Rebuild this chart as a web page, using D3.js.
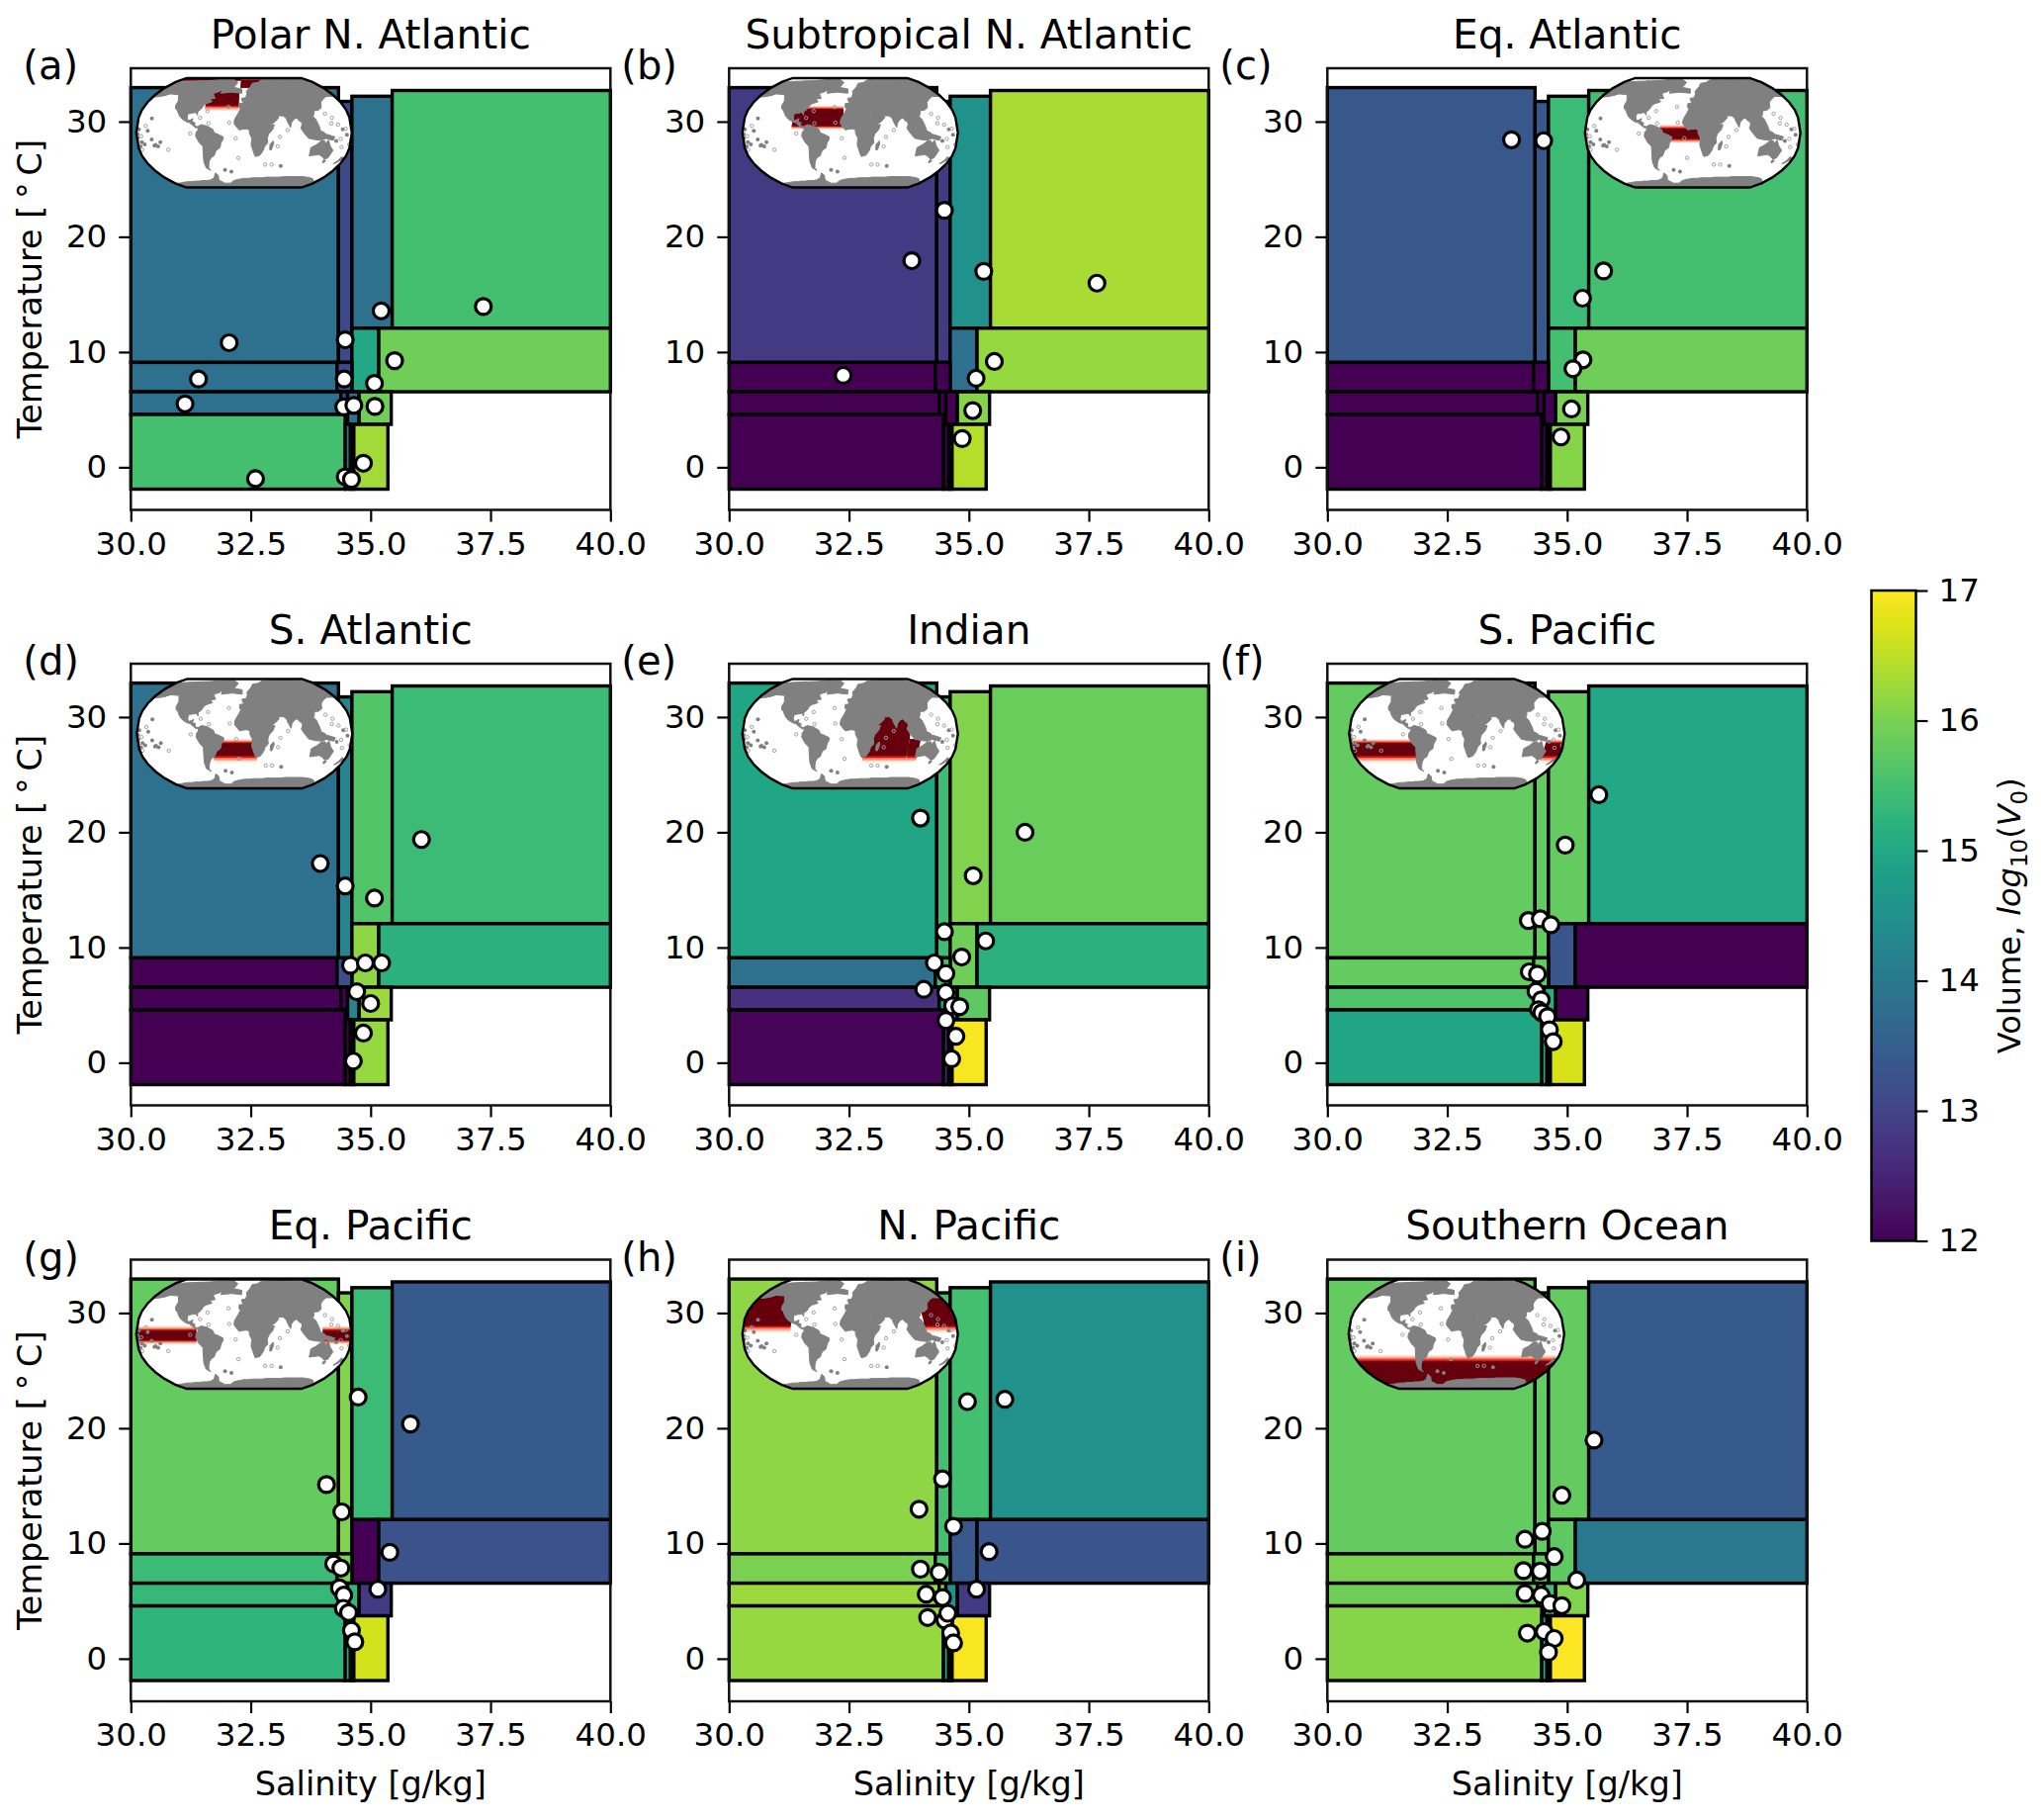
<!DOCTYPE html>
<html>
<head>
<meta charset="utf-8">
<title>Box volumes by region</title>
<script src="https://cdnjs.cloudflare.com/ajax/libs/d3/7.8.5/d3.min.js"></script>
<style>
  html, body { margin: 0; padding: 0; background: #fff; }
  svg text { font-family: "DejaVu Sans", sans-serif; fill: #000; }
</style>
</head>
<body>
<svg id="chart" width="2067" height="1840"></svg>
<script>
const panelNames = ["Polar N. Atlantic", "Subtropical N. Atlantic", "Eq. Atlantic", "S. Atlantic", "Indian", "S. Pacific", "Eq. Pacific", "N. Pacific", "Southern Ocean"];
const panelLetters = ["(a)", "(b)", "(c)", "(d)", "(e)", "(f)", "(g)", "(h)", "(i)"];
const xTicks = [30, 32.5, 35, 37.5, 40];
const yTicks = [0, 10, 20, 30];
const barTicks = [12, 13, 14, 15, 16, 17];

// the 16 boxes, same bounds in every panel
const salMin  = [30, 34.33, 34.61, 35.45, 34.61, 35.17, 30, 34.30, 30, 34.38, 34.52, 34.76, 30, 34.47, 34.58, 34.65];
const salMax  = [34.33, 34.61, 35.45, 40, 35.17, 40, 34.30, 34.61, 34.38, 34.52, 34.76, 35.43, 34.47, 34.58, 34.65, 35.36];
const tempMin = [9.1, 9.1, 12.07, 12.07, 6.55, 6.55, 6.55, 6.55, 4.58, 4.58, 3.72, 3.72, -1.9, -1.9, -1.9, -1.9];
const tempMax = [32.95, 31.75, 32.2, 32.7, 12.07, 12.07, 9.1, 9.1, 6.55, 6.55, 6.55, 6.55, 4.58, 3.72, 3.72, 3.72];

// log10 volume per box
const volumesA = [13.85, 13.1, 13.85, 15.5, 15.0, 15.9, 13.85, 13.1, 13.85, 13.1, 13.85, 15.9, 15.5, 14.0, 15.0, 16.3];
const volumesB = [12.85, 12.85, 14.5, 16.35, 13.85, 16.2, 12, 12, 12, 12, 12, 16.1, 12, 12, 12, 16.45];
const volumesC = [13.35, 13.35, 15.4, 15.5, 15.5, 15.9, 12, 12, 12, 12, 12, 16.0, 12, 12, 12, 16.1];
const volumesD = [13.85, 14.25, 15.65, 15.4, 16.15, 15.2, 12, 13.15, 12, 12, 14.25, 16.25, 12, 12, 14.25, 16.2];
const volumesE = [14.95, 15.45, 16.05, 15.85, 15.9, 15.2, 13.85, 15.5, 12.7, 15.0, 15.0, 15.75, 12.05, 12.5, 14.6, 16.95];
const volumesF = [15.8, 15.8, 15.8, 15.0, 13.3, 12, 15.8, 15.8, 15.6, 15.6, 15.1, 12, 14.95, 15, 15, 16.7];
const volumesG = [15.8, 16.05, 15.4, 13.4, 12, 13.25, 15.4, 16.0, 15.35, 15.3, 15.3, 12.85, 15.25, 15, 15, 16.65];
const volumesH = [16.15, 15.5, 15.5, 14.5, 13.35, 13.3, 16.0, 15.6, 16.25, 16.25, 14.5, 12.85, 16.2, 15, 15, 16.95];
const volumesI = [15.8, 15.8, 15.8, 13.4, 15.75, 14.0, 16.0, 15.8, 15.9, 15.9, 15.5, 16.05, 16.1, 15, 15, 17];
const allVolumes = [volumesA, volumesB, volumesC, volumesD, volumesE, volumesF, volumesG, volumesH, volumesI];

// salinity, temperature of the white dots
const pointsA = [[32.6,-0.99],[34.47,-0.83],[34.6,-1.05],[34.85,0.35],[31.13,5.5],[34.44,5.24],[34.65,5.37],[35.09,5.28],[31.41,7.66],[34.45,7.66],[35.08,7.28],[32.05,10.81],[34.47,11.06],[35.22,13.57],[35.5,9.25],[37.35,13.95]];
const pointsB = [[32.38,7.98],[33.81,17.93],[34.49,22.3],[35.31,17.0],[37.67,15.98],[35.53,9.18],[35.15,7.72],[35.08,4.92],[34.86,2.49]];
const pointsC = [[33.84,28.42],[34.51,28.34],[35.76,17.04],[35.32,14.67],[35.33,9.32],[35.12,8.55],[35.09,5.06],[34.87,2.63]];
const pointsD = [[33.95,17.29],[34.47,15.34],[35.08,14.29],[36.06,19.37],[34.58,8.46],[34.89,8.66],[35.23,8.66],[34.71,6.17],[35.0,5.14],[34.85,2.57],[34.64,0.14]];
const pointsE = [[33.99,21.23],[36.17,20.0],[35.09,16.23],[34.49,11.37],[35.35,10.57],[34.85,9.17],[34.28,8.66],[34.52,7.74],[34.06,6.37],[34.52,6.09],[34.66,4.94],[34.81,4.86],[34.52,3.66],[34.73,2.29],[34.64,0.34]];
const pointsF = [[35.66,23.26],[34.96,18.89],[34.19,12.34],[34.44,12.49],[34.66,11.97],[34.21,7.89],[34.38,7.69],[34.35,6.2],[34.46,5.46],[34.4,4.6],[34.47,4.34],[34.59,4.0],[34.63,2.86],[34.71,1.83]];
const pointsG = [[34.74,22.7],[35.83,20.37],[34.08,15.11],[34.4,12.74],[35.4,9.23],[34.23,8.23],[34.38,7.86],[34.35,6.14],[34.44,5.51],[35.15,6.03],[34.43,4.37],[34.54,4.0],[34.6,2.46],[34.67,1.46]];
const pointsH = [[34.97,22.31],[35.75,22.51],[34.45,15.6],[33.96,12.97],[34.68,11.49],[35.42,9.29],[33.99,7.77],[34.38,7.49],[34.11,5.6],[34.45,5.31],[35.16,6.03],[34.14,3.57],[34.5,3.34],[34.56,3.94],[34.62,2.23],[34.68,1.37]];
const pointsI = [[35.56,18.97],[34.89,14.18],[34.48,11.05],[34.12,10.36],[34.73,8.86],[34.09,7.64],[34.44,7.6],[35.2,6.82],[34.12,5.67],[34.46,5.51],[34.64,4.79],[34.89,4.6],[34.17,2.22],[34.52,2.35],[34.73,1.75],[34.61,0.56]];
const allPoints = [pointsA, pointsB, pointsC, pointsD, pointsE, pointsF, pointsG, pointsH, pointsI];

// highlighted ocean per panel: lonW, lonE, latS, latN, fadeS, fadeN (degrees)
const regionsA = [[-70,-10,40,66,7,0],[-180,180,82,90,0,0],[-8,50,68,84,0,0]];
const regionsB = [[-98,-12,10,35,5,5]];
const regionsC = [[-55,12,-9,6,6,6]];
const regionsD = [[-55,22,-33,-14,9,6]];
const regionsE = [[22,100,-33,30,9,0],[100,118,-33,-8,9,0]];
const regionsF = [[-180,-70,-33,-14,9,6],[150,180,-33,-14,9,6]];
const regionsG = [[-180,-80,-9,5,6,7],[132,180,-9,5,6,7]];
const regionsH = [[-180,-100,12,66,9,0],[125,180,12,66,9,0]];
const regionsI = [[-180,180,-90,-40,0,9]];
const allRegions = [regionsA, regionsB, regionsC, regionsD, regionsE, regionsF, regionsG, regionsH, regionsI];
const fadeSteps = [1, 0.75, 0.5, 0.25, 0];
const fadeColors = ["#fee5d9", "#fcae91", "#fb6a4a", "#cb181d", "#67000d"];

// coarse coastlines, lon/lat, marginal seas are filled like the land mask in the picture
const landNorthAmerica = [[-168,66],[-162,70],[-156,72],[-140,71],[-128,71],[-115,69],[-108,69],[-96,69],[-94,72],[-85,70],[-78,67],[-72,63],[-65,60],[-60,55],[-56,51],[-66,50],[-60,46],[-66,44],[-70,43],[-74,40],[-76,35],[-81,31],[-80,26],[-82,28],[-84,30],[-90,29],[-97,28],[-97,22],[-95,18],[-91,19],[-87,21],[-88,16],[-83,15],[-83,10],[-78,9],[-80,7],[-85,10],[-92,15],[-97,16],[-105,20],[-110,24],[-115,30],[-117,33],[-121,35],[-124,40],[-124,47],[-130,54],[-135,58],[-145,60],[-152,59],[-160,55],[-158,58],[-165,62]];
const landBering = [[-179.9,53],[-165,54],[-152,58],[-135,57],[-120,70],[-120,81],[-150,80],[-179.9,78]];
const landArctic = [[-125,65],[-125,81],[-95,82],[-60,85],[-40,80],[-52,62],[-80,54],[-100,58]];
const landGreenland = [[-73,78],[-62,83],[-30,85],[-16,78],[-22,70],[-40,65],[-44,60],[-52,65],[-55,71]];
const landRidge = [[-48,59],[-5,59],[-5,66],[-48,69]];
const landSouthAmerica = [[-78,9],[-72,12],[-62,10],[-52,5],[-50,0],[-44,-2],[-35,-6],[-35,-9],[-39,-15],[-41,-22],[-48,-26],[-53,-34],[-58,-36],[-63,-41],[-66,-46],[-69,-52],[-67,-56],[-74,-52],[-74,-43],[-72,-35],[-70,-20],[-76,-14],[-81,-5],[-80,1],[-77,4]];
const landAfrica = [[-6,36],[10,38],[20,33],[33,31],[35,24],[38,18],[43,12],[51,12],[48,5],[41,-2],[39,-8],[40,-15],[35,-20],[33,-26],[28,-33],[20,-35],[18,-32],[12,-18],[13,-8],[9,-1],[9,4],[4,6],[-4,5],[-8,4],[-13,9],[-17,14],[-16,20],[-10,29]];
const landEurasia = [[-9,37],[-9,43],[-1,44],[-4,48],[-5,51],[3,52],[6,58],[5,62],[15,70],[20,76],[35,78],[50,84],[80,85],[110,86],[140,85],[179.9,84],[179.9,54],[163,54],[152,50],[143,45],[138,37],[130,33],[125,33],[122,31],[120,26],[114,22],[108,21],[106,18],[109,12],[105,9],[100,13],[103,2],[100,5],[98,10],[97,16],[93,18],[90,22],[85,20],[80,15],[78,8],[73,17],[72,21],[67,25],[58,25],[59,22],[52,16],[44,12],[38,15],[35,28],[32,31],[20,33],[10,37],[-5,36]];
const landAustralia = [[114,-22],[122,-18],[130,-12],[136,-12],[137,-16],[142,-11],[146,-19],[153,-26],[150,-37],[145,-39],[138,-35],[131,-32],[124,-33],[115,-34]];
const landTasmania = [[144,-40],[149,-41],[148,-44],[145,-44]];
const landNewGuinea = [[131,-1],[141,-3],[152,-6],[150,-11],[139,-9],[133,-4]];
const landMaritime = [[95,7],[100,0],[108,-8],[118,-10],[130,-11],[138,-8],[135,0],[128,3],[126,10],[122,20],[118,24],[105,24]];
const landMadagascar = [[49,-12],[50,-16],[47,-25],[44,-25],[44,-17]];
const landNewZealand = [[173,-35],[178,-38],[172,-44],[167,-46],[171,-41]];
const landAntarctica = [[-180,-90],[-180,-78],[-170,-78],[-160,-77],[-150,-76],[-140,-75],[-130,-75],[-120,-74],[-110,-74],[-100,-73],[-90,-73],[-80,-72],[-68,-68],[-60,-60],[-56,-64],[-60,-72],[-50,-78],[-35,-78],[-25,-73],[-15,-71],[0,-69],[10,-69],[20,-68],[30,-68],[40,-68],[50,-67],[60,-67],[70,-67],[80,-67],[90,-66],[100,-66],[110,-66],[120,-66],[130,-66],[140,-67],[150,-68],[160,-70],[170,-74],[180,-78],[180,-90]];
const allLand = [landNorthAmerica, landBering, landArctic, landGreenland, landRidge, landSouthAmerica, landAfrica, landEurasia, landAustralia, landTasmania, landNewGuinea, landMaritime, landMadagascar, landNewZealand, landAntarctica];

// seamounts and small islands that show as specks
const speckSolid = [[-157,21],[-161,3],[-141,-14],[-172,-14],[-150,-18],[-146,-20],[-152,-19],[-168,-17],[-176,-20],[-178,-8],[-155,-10],[70,-49],[-38,-55],[-26,-58],[-178,-2],[-176,5],[165,5],[172,-3],[155,-12]];
const speckRing = [[-90,-1],[-130,-25],[-172,-5],[-165,10],[-175,-25],[-178,-14],[57,-20],[73,4],[-14,-8],[-25,15],[-10,-37],[40,-47],[52,-47],[166,-21],[178,-17],[162,-9],[170,6],[158,12],[147,14],[150,22],[140,28],[-60,14],[-75,22],[-64,32],[-28,38],[60,-6]];

const colLeft = [132.3, 737.3, 1342.3];
const rowTop = [69, 671, 1273.5];
const panelW = 485, panelH = 446.5;
const mapW = 218, mapH = 111.5;
// inset position inside each panel
const mapLeft = [5.5, 13.4, 260.4, 6, 13.4, 22, 5.5, 13.4, 21.5];
const mapTop = [9.5, 9.5, 9.5, 15, 15, 15, 19.5, 19.5, 19.5];

const svg = d3.select("#chart");
const color = d3.scaleSequential(d3.interpolateViridis).domain([12, 17]);
const x = d3.scaleLinear().domain([30, 40]).range([0, panelW]);
const y = d3.scaleLinear().domain([-3.7, 34.63]).range([panelH, 0]);

// Robinson table, every 5 degrees
const robX = [1, .9986, .9954, .99, .9822, .973, .96, .9427, .9216, .8962, .8679, .835, .7986, .7597, .7186, .6732, .6213, .5722, .5322];
const robY = [0, .062, .124, .186, .248, .31, .372, .434, .4958, .5571, .6176, .6769, .7346, .7903, .8435, .8936, .9394, .9761, 1];
function robinsonRaw(lam, phi) {
    const a = Math.abs(phi) * 180 / Math.PI / 5;
    const i = Math.min(Math.floor(a), 17);
    const f = a - i;
    return [
        0.8487 * (robX[i] + f * (robX[i + 1] - robX[i])) * lam,
        1.3523 * Math.sign(phi) * (robY[i] + f * (robY[i + 1] - robY[i]))
    ];
}
const projection = d3.geoProjection(robinsonRaw).fitSize([mapW, mapH], { type: "Sphere" });
const geoPath = d3.geoPath(projection);

function polygon(ring) {
    const closed = ring.concat([ring[0]]);
    const feature = { type: "Polygon", coordinates: [closed] };
    // spherical winding, keep the small side
    if (d3.geoArea(feature) > 2 * Math.PI) feature.coordinates = [closed.slice().reverse()];
    return feature;
}

function latLonBox(lonW, lonE, latS, latN) {
    if (latN >= 90) latN = 89.9;
    if (latS <= -90) latS = -89.9;
    const ring = [];
    const lons = d3.range(lonW, lonE, 4).concat([lonE]);
    lons.forEach(l => ring.push([l, latN]));
    lons.slice().reverse().forEach(l => ring.push([l, latS]));
    return polygon(ring);
}

const landShapes = allLand.map(polygon);

function drawMap(g, regions) {
    g.append("path").datum({ type: "Sphere" }).attr("d", geoPath).attr("fill", "#fff");

    regions.forEach(r => {
        fadeSteps.forEach((f, i) => {
            g.append("path")
                .datum(latLonBox(r[0], r[1], r[2] - r[4] * f, r[3] + r[5] * f))
                .attr("d", geoPath)
                .attr("fill", fadeColors[i]);
        });
    });

    g.selectAll(".land").data(landShapes).enter().append("path")
        .attr("class", "land")
        .attr("d", geoPath)
        .attr("fill", "#808080")
        .attr("stroke", "#808080")
        .attr("stroke-width", 1);

    geoPath.pointRadius(2);
    g.selectAll(".speck").data(speckSolid).enter().append("path")
        .attr("class", "speck")
        .attr("d", d => geoPath({ type: "Point", coordinates: d }))
        .attr("fill", "#808080");
    geoPath.pointRadius(1.7);
    g.selectAll(".ring").data(speckRing).enter().append("path")
        .attr("class", "ring")
        .attr("d", d => geoPath({ type: "Point", coordinates: d }))
        .attr("fill", "none")
        .attr("stroke", "#a0a0a0")
        .attr("stroke-width", 1);

    g.append("path").datum({ type: "Sphere" }).attr("d", geoPath)
        .attr("fill", "none")
        .attr("stroke", "#000")
        .attr("stroke-width", 2.4);
}

function styleAxis(g) {
    g.selectAll(".domain").remove();
    g.selectAll(".tick line").attr("stroke", "#000").attr("stroke-width", 2.2);
    g.selectAll(".tick text").attr("font-size", 32.5).attr("fill", "#000");
}

panelNames.forEach((name, p) => {
    const col = p % 3, row = Math.floor(p / 3);
    const left = colLeft[col], top = rowTop[row];
    const g = svg.append("g").attr("transform", `translate(${left},${top})`);
    const volumes = allVolumes[p];

    g.selectAll(".box").data(volumes).enter().append("rect")
        .attr("class", "box")
        .attr("x", (d, i) => x(salMin[i]))
        .attr("y", (d, i) => y(tempMax[i]))
        .attr("width", (d, i) => x(salMax[i]) - x(salMin[i]))
        .attr("height", (d, i) => y(tempMin[i]) - y(tempMax[i]))
        .attr("fill", d => color(d))
        .attr("stroke", "#000")
        .attr("stroke-width", 3.4);

    g.selectAll(".dot").data(allPoints[p]).enter().append("circle")
        .attr("class", "dot")
        .attr("cx", d => x(d[0]))
        .attr("cy", d => y(d[1]))
        .attr("r", 8)
        .attr("fill", "#fff")
        .attr("stroke", "#000")
        .attr("stroke-width", 3.2);

    const xAxis = d3.axisBottom(x).tickValues(xTicks).tickFormat(d3.format(".1f")).tickSize(12).tickPadding(10).tickSizeOuter(0);
    const yAxis = d3.axisLeft(y).tickValues(yTicks).tickSize(12).tickPadding(12).tickSizeOuter(0);
    g.append("g").attr("transform", `translate(0,${panelH})`).call(xAxis).call(styleAxis);
    g.append("g").call(yAxis).call(styleAxis);

    g.append("rect")
        .attr("width", panelW).attr("height", panelH)
        .attr("fill", "none").attr("stroke", "#111").attr("stroke-width", 2.5);

    drawMap(g.append("g").attr("transform", `translate(${mapLeft[p]},${mapTop[p]})`), allRegions[p]);

    g.append("text")
        .attr("x", panelW / 2).attr("y", -20.5)
        .attr("text-anchor", "middle")
        .attr("font-size", 40.6)
        .text(name);

    g.append("text")
        .attr("x", -109).attr("y", 11)
        .attr("font-size", 40)
        .text(panelLetters[p]);

    if (col === 0) {
        g.append("text")
            .attr("transform", `translate(-90,${panelH / 2}) rotate(-90)`)
            .attr("text-anchor", "middle")
            .attr("font-size", 33.5)
            .text("Temperature [\u2009°\u2009C]");
    }
    if (row === 2) {
        g.append("text")
            .attr("x", panelW / 2).attr("y", panelH + 95)
            .attr("text-anchor", "middle")
            .attr("font-size", 33.5)
            .text("Salinity [g/kg]");
    }
});

// colour bar
const barX = 1892.5, barY = 597, barW = 45, barH = 657.5;
const barScale = d3.scaleLinear().domain([12, 17]).range([barH, 0]);
const defs = svg.append("defs");
const grad = defs.append("linearGradient").attr("id", "viridis-bar")
    .attr("x1", 0).attr("x2", 0).attr("y1", 1).attr("y2", 0);
d3.range(0, 1.001, 0.05).forEach(t => {
    grad.append("stop").attr("offset", t).attr("stop-color", d3.interpolateViridis(t));
});
const bar = svg.append("g").attr("transform", `translate(${barX},${barY})`);
bar.append("rect").attr("width", barW).attr("height", barH).attr("fill", "url(#viridis-bar)");
bar.append("g").attr("transform", `translate(${barW},0)`)
    .call(d3.axisRight(barScale).tickValues(barTicks).tickFormat(d3.format("d")).tickSize(12).tickPadding(11).tickSizeOuter(0))
    .call(styleAxis);
bar.append("rect").attr("width", barW).attr("height", barH)
    .attr("fill", "none").attr("stroke", "#000").attr("stroke-width", 2.5);

const barLabel = bar.append("text")
    .attr("transform", `translate(${barW + 105},${barH / 2}) rotate(-90)`)
    .attr("text-anchor", "middle")
    .attr("font-size", 32);
barLabel.append("tspan").text("Volume, ");
barLabel.append("tspan").attr("font-style", "italic").text("log");
barLabel.append("tspan").attr("font-size", 23).attr("dy", 7).text("10");
barLabel.append("tspan").attr("dy", -7).text("(");
barLabel.append("tspan").attr("font-style", "italic").text("V");
barLabel.append("tspan").attr("font-size", 23).attr("dy", 7).text("0");
barLabel.append("tspan").attr("dy", -7).text(")");
</script>
</body>
</html>
